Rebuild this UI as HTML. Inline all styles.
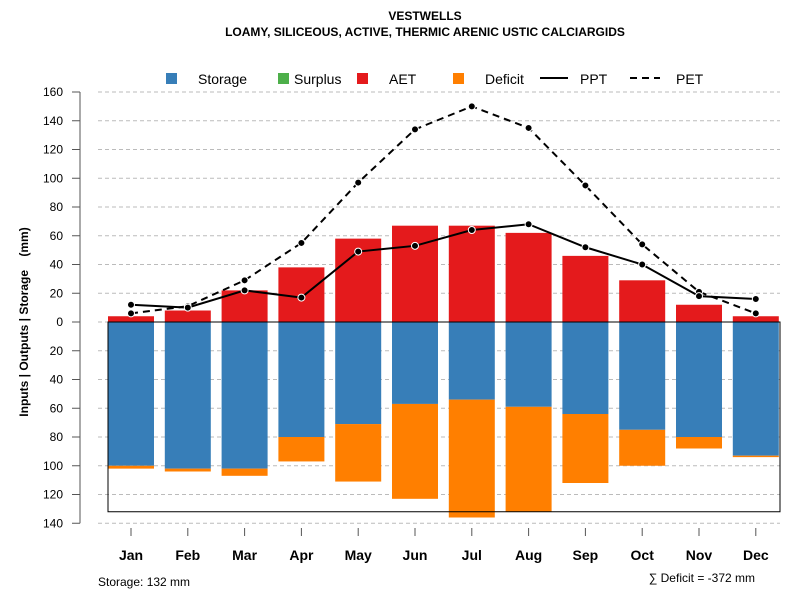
<!DOCTYPE html>
<html><head><meta charset="utf-8"><style>
body{margin:0;background:#fff;font-family:"Liberation Sans",sans-serif}
</style></head><body>
<svg id="c" width="800" height="600" xmlns="http://www.w3.org/2000/svg" font-family="Liberation Sans, sans-serif">
<text x="425" y="20" text-anchor="middle" font-size="12" font-weight="bold">VESTWELLS</text>
<text x="425" y="36" text-anchor="middle" font-size="12" font-weight="bold">LOAMY, SILICEOUS, ACTIVE, THERMIC ARENIC USTIC CALCIARGIDS</text>
<g>
<rect x="166" y="73" width="11" height="11" fill="#377eb8"/>
<text x="198" y="84" font-size="14">Storage</text>
<rect x="278" y="73" width="11" height="11" fill="#4daf4a"/>
<text x="294" y="84" font-size="14">Surplus</text>
<rect x="357" y="73" width="11" height="11" fill="#e41a1c"/>
<text x="389" y="84" font-size="14">AET</text>
<rect x="453" y="73" width="11" height="11" fill="#ff7f00"/>
<text x="485" y="84" font-size="14">Deficit</text>
<line x1="540" y1="78" x2="568" y2="78" stroke="#000" stroke-width="2"/>
<text x="580" y="84" font-size="14">PPT</text>
<line x1="630" y1="78" x2="660" y2="78" stroke="#000" stroke-width="2" stroke-dasharray="7,5"/>
<text x="676" y="84" font-size="14">PET</text>
</g>
<text transform="translate(28,322) rotate(-90)" text-anchor="middle" font-size="12" font-weight="bold" xml:space="preserve" style="white-space:pre">Inputs | Outputs | Storage    (mm)</text>
<text x="98" y="586" font-size="12">Storage: 132 mm</text>
<text x="755" y="582" text-anchor="end" font-size="12">∑ Deficit = -372 mm</text>
<g id="plot"></g>
</svg>
<script>
const months=["Jan","Feb","Mar","Apr","May","Jun","Jul","Aug","Sep","Oct","Nov","Dec"];
const aet=[4,8,22,38,58,67,67,62,46,29,12,4];
const storage=[100,102,102,80,71,57,54,59,64,75,80,93];
const deficit=[2,2,5,17,40,66,82,73,48,25,8,1];
const ppt=[12,10,22,17,49,53,64,68,52,40,18,16];
const pet=[6,11,29,55,97,134,150,135,95,54,21,6];
const yTicks=[160,140,120,100,80,60,40,20,0,20,40,60,80,100,120,140];
const yVals=[160,140,120,100,80,60,40,20,0,-20,-40,-60,-80,-100,-120,-140];
const storageCap=132;
const NS="http://www.w3.org/2000/svg";
const g=document.getElementById("plot");
const y=v=>322-v*1.4375;
const x=i=>131+i*56.8;
function mk(t,a){const e=document.createElementNS(NS,t);for(const k in a)e.setAttribute(k,a[k]);g.appendChild(e);return e;}
yVals.forEach((v,i)=>{
 const l=mk("line",{x1:98,x2:780,y1:y(v),y2:y(v),stroke:"#bbb","stroke-dasharray":"4,3"});
 
 
 const t=mk("line",{x1:72,x2:80,y1:y(v),y2:y(v),stroke:"#555"});
 
 
 const tx=mk("text",{x:63,y:y(v)+4,"text-anchor":"end","font-size":12});
 tx.textContent=yTicks[i];
 
 
});
const ax=mk("line",{x1:80,x2:80,y1:y(160),y2:y(-140),stroke:"#555"});


const bw=46;
months.forEach((m,i)=>{
 const cx=x(i);
 const a=mk("rect",{x:cx-bw/2,y:y(aet[i]),width:bw,height:y(0)-y(aet[i]),fill:"#e41a1c"});
 
 
 const s=mk("rect",{x:cx-bw/2,y:y(0),width:bw,height:y(-storage[i])-y(0),fill:"#377eb8"});
 
 
 const d=mk("rect",{x:cx-bw/2,y:y(-storage[i]),width:bw,height:y(-storage[i]-deficit[i])-y(-storage[i]),fill:"#ff7f00"});
 
 
 const t=mk("line",{x1:cx,x2:cx,y1:528,y2:536,stroke:"#555"});
 
 
 const tx=mk("text",{x:cx,y:560,"text-anchor":"middle","font-size":14,"font-weight":"bold"});
 tx.textContent=m;
 
 
});
const box=mk("rect",{x:108,y:y(0),width:672,height:y(-storageCap)-y(0),fill:"none",stroke:"#000"});


const zl=mk("line",{x1:108,x2:780,y1:y(0),y2:y(0),stroke:"#000"});


function series(arr,name,dash){
 const p=mk("polyline",{points:arr.map((v,i)=>x(i)+","+y(v)).join(" "),fill:"none",stroke:"#000","stroke-width":2,"stroke-dasharray":dash});
 
 
 arr.forEach((v,i)=>{
  const c=mk("circle",{cx:x(i),cy:y(v),r:3.5,fill:"#000",stroke:"#fff","stroke-width":1});
  
  
 });
}
series(pet,"pet","7,5");
series(ppt,"ppt","none");
</script>
</body></html>
